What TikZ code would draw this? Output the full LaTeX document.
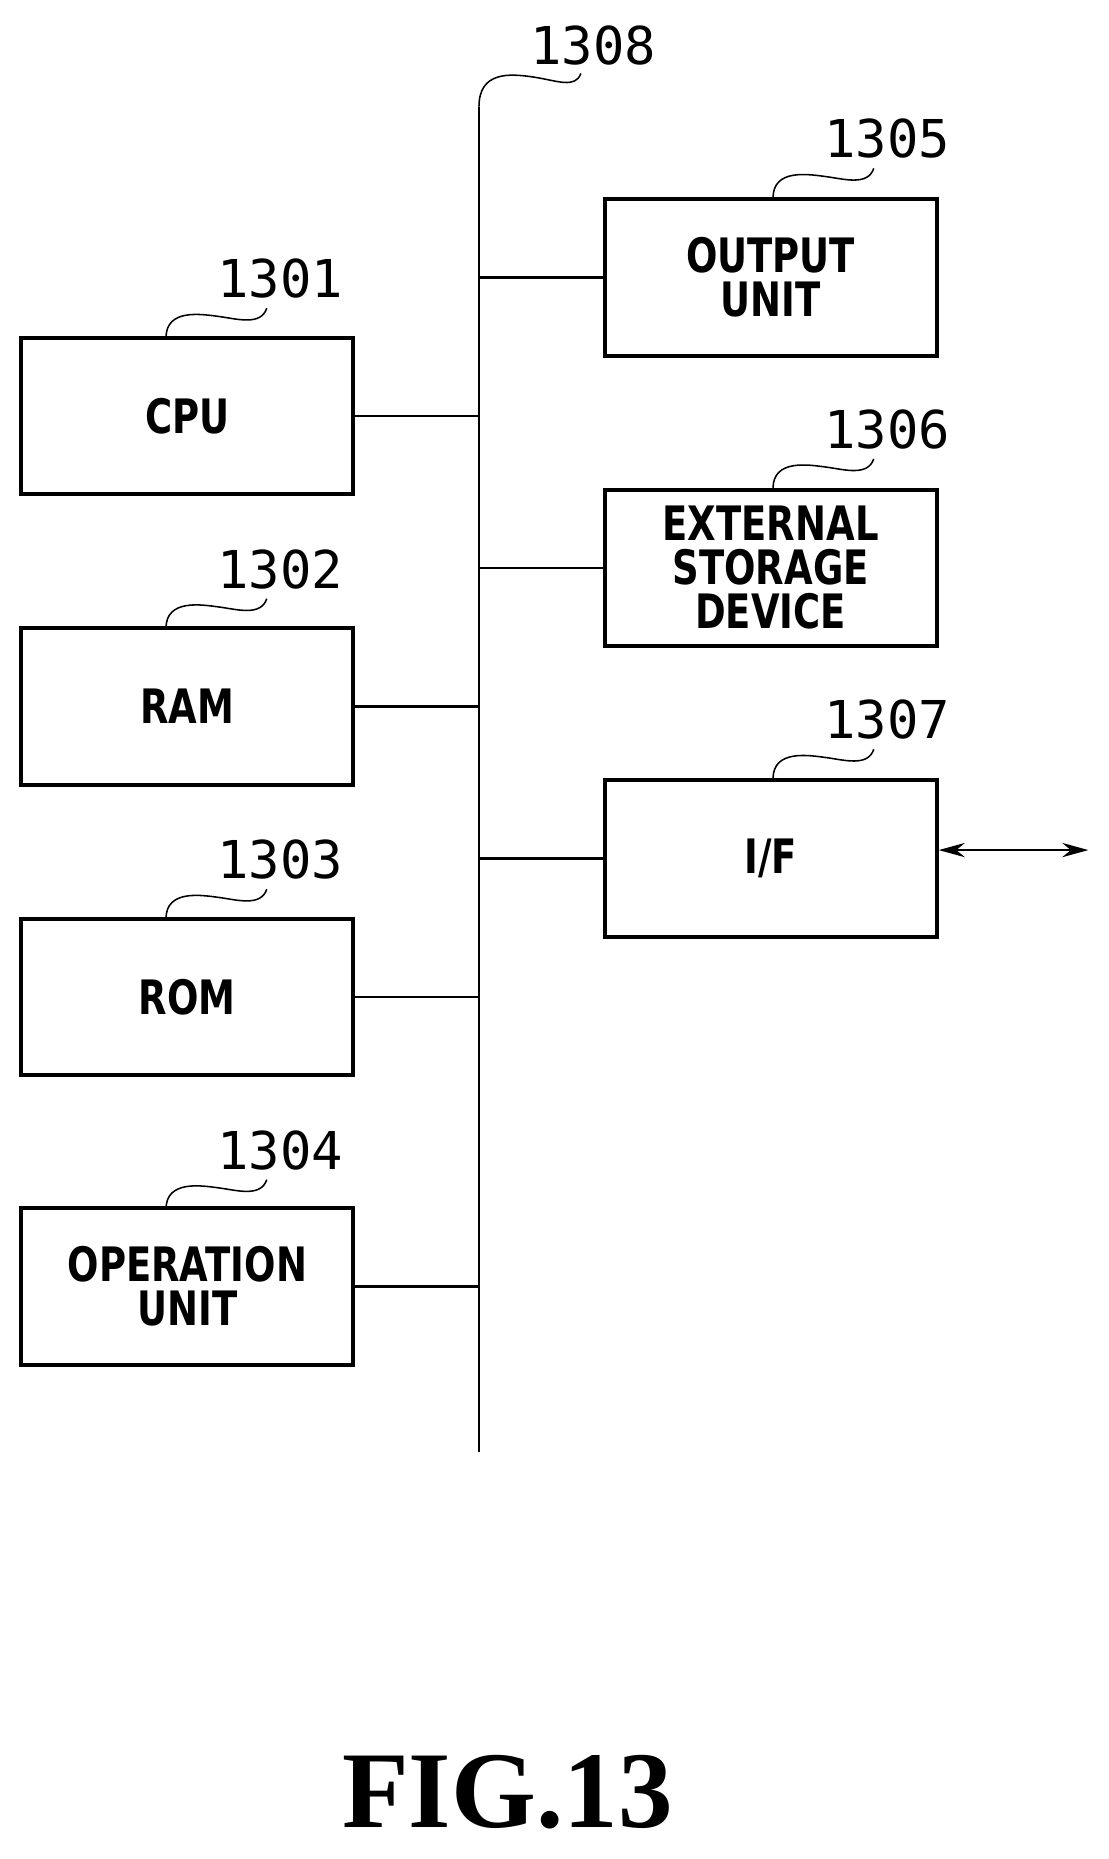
\documentclass[tikz,border=0pt]{standalone}
\usetikzlibrary{arrows.meta}
\usepackage{fontspec}
\setmainfont{DejaVu Sans}
\newfontfamily\boxf{DejaVu Sans}[FakeStretch=0.78]
\newfontfamily\numf{DejaVu Sans Mono}
\newfontfamily\figf{Liberation Serif}
\begin{document}
\begin{tikzpicture}[x=1pt,y=-1pt,
 box/.style={draw,line width=3.5pt,minimum width=280pt,minimum height=132pt,inner sep=0pt,align=center,font=\boxf\fontsize{40}{37}\selectfont\bfseries},
 ln/.style={line width=2pt},
 num/.style={font=\numf\fontsize{44}{44}\selectfont,anchor=west,inner sep=0pt},
 sq/.style={line width=1.3pt}]
\useasboundingbox (0,0) rectangle (935,1568);
\node[box] (cpu) at (158,351) {CPU};
\node[box] (ram) at (158,596) {RAM};
\node[box] (rom) at (158,841) {ROM};
\node[box] (op) at (158,1085) {OPERATION\\UNIT};
\node[box] (out) at (650,234) {OUTPUT\\UNIT};
\node[box] (ext) at (650,479) {EXTERNAL\\STORAGE\\DEVICE};
\node[box] (if) at (650,724) {I/F};
\coordinate (bt) at (404,90);
\coordinate (bb) at (404,1225);
\draw[ln] (bt) -- (bb);
\foreach \n in {cpu,ram,rom,op}{\draw[ln] (\n.east) -- (\n.east -| bt);}
\foreach \n in {out,ext,if}{\draw[ln] (\n.west) -- (\n.west -| bt);}
\coordinate (ar) at (918,717);
\draw[ln,<->,>={Stealth[length=22pt,width=12pt]}] (if.east |- ar) -- (ar);
\foreach \n/\t/\x/\y in {cpu/1301/140/285,ram/1302/140/530,rom/1303/140/775,op/1304/140/1020,out/1305/652/167,ext/1306/652/412,if/1307/652/657}{
 \draw[sq] (\x,\y) .. controls (\x,\y-25) and (\x+30,\y-20) .. (\x+45,\y-18) .. controls (\x+60,\y-16) and (\x+80,\y-10) .. (\x+85,\y-25);
 \node[num] (l\t) at (\x+43,\y-50) {\t};
}
\draw[sq] (bt) .. controls (404,60) and (430,62) .. (450,65) .. controls (470,68) and (485,75) .. (490,62);
\node[num] (l1308) at (447,38) {1308};
\node[font=\figf\bfseries\fontsize{92}{92}\selectfont] (fig) at (428,1512) {FIG.13};
\end{tikzpicture}
\end{document}
